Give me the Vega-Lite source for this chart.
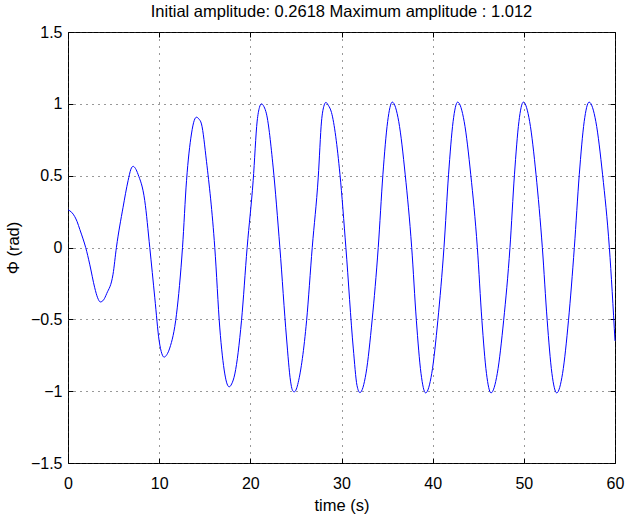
{
  "$schema": "https://vega.github.io/schema/vega-lite/v6.json",
  "width": 547,
  "height": 431,
  "autosize": {"type": "none"},
  "padding": {"left": 68, "top": 32, "right": 10, "bottom": 56},
  "background": "white",
  "title": {
    "text": "Initial amplitude: 0.2618 Maximum amplitude : 1.012",
    "font": "Liberation Sans",
    "fontSize": 16.5,
    "fontWeight": "normal",
    "color": "black",
    "anchor": "middle",
    "baseline": "alphabetic",
    "offset": 13,
    "dy": 22
  },
  "config": {
    "view": {"stroke": "black", "strokeWidth": 1},
    "font": "Liberation Sans",
    "axis": {
      "labelFont": "Liberation Sans",
      "titleFont": "Liberation Sans",
      "labelFontSize": 16,
      "titleFontSize": 16.5,
      "labelColor": "black",
      "titleColor": "black",
      "titleFontWeight": "normal",
      "domain": false,
      "ticks": true,
      "tickColor": "black",
      "tickSize": -5,
      "tickWidth": 1,
      "labelFlush": false,
      "labelOverlap": false
    }
  },
  "data": {
    "values": [
      {"t": 0, "phi": 0.262}, {"t": 0.4, "phi": 0.245}, {"t": 0.74, "phi": 0.215}, {"t": 1.0, "phi": 0.18},
      {"t": 1.3, "phi": 0.125}, {"t": 1.65, "phi": 0.06}, {"t": 1.94, "phi": 0}, {"t": 2.38, "phi": -0.116},
      {"t": 2.93, "phi": -0.28}, {"t": 3.25, "phi": -0.35}, {"t": 3.55, "phi": -0.379}, {"t": 3.9, "phi": -0.365},
      {"t": 4.25, "phi": -0.32}, {"t": 4.94, "phi": -0.186}, {"t": 5.31, "phi": 0}, {"t": 6.04, "phi": 0.28},
      {"t": 6.59, "phi": 0.465}, {"t": 6.9, "phi": 0.545}, {"t": 7.14, "phi": 0.565}, {"t": 7.4, "phi": 0.55},
      {"t": 7.68, "phi": 0.51}, {"t": 8.42, "phi": 0.326}, {"t": 8.97, "phi": 0}, {"t": 9.52, "phi": -0.35},
      {"t": 10.0, "phi": -0.65}, {"t": 10.3, "phi": -0.74}, {"t": 10.54, "phi": -0.763}, {"t": 10.85, "phi": -0.745},
      {"t": 11.16, "phi": -0.70}, {"t": 11.9, "phi": -0.465}, {"t": 12.56, "phi": 0}, {"t": 13.0, "phi": 0.465},
      {"t": 13.54, "phi": 0.79}, {"t": 13.85, "phi": 0.885}, {"t": 14.09, "phi": 0.907}, {"t": 14.35, "phi": 0.895},
      {"t": 14.64, "phi": 0.86}, {"t": 15.19, "phi": 0.6}, {"t": 16.1, "phi": 0}, {"t": 16.65, "phi": -0.56},
      {"t": 17.2, "phi": -0.88}, {"t": 17.45, "phi": -0.95}, {"t": 17.68, "phi": -0.97}, {"t": 17.95, "phi": -0.95},
      {"t": 18.3, "phi": -0.88}, {"t": 19.03, "phi": -0.51}, {"t": 19.65, "phi": 0}, {"t": 20.31, "phi": 0.465},
      {"t": 20.75, "phi": 0.88}, {"t": 21.0, "phi": 0.975}, {"t": 21.22, "phi": 1.0}, {"t": 21.5, "phi": 0.98},
      {"t": 21.77, "phi": 0.93}, {"t": 22.5, "phi": 0.56}, {"t": 23.24, "phi": 0}, {"t": 23.97, "phi": -0.63},
      {"t": 24.41, "phi": -0.93}, {"t": 24.6, "phi": -0.99}, {"t": 24.81, "phi": -1.005}, {"t": 25.05, "phi": -0.985},
      {"t": 25.25, "phi": -0.94}, {"t": 26.17, "phi": -0.51}, {"t": 26.79, "phi": 0}, {"t": 27.45, "phi": 0.49},
      {"t": 27.81, "phi": 0.88}, {"t": 28.05, "phi": 0.98}, {"t": 28.29, "phi": 1.01}, {"t": 28.55, "phi": 0.99},
      {"t": 28.9, "phi": 0.94}, {"t": 29.83, "phi": 0.51}, {"t": 30.48, "phi": 0}, {"t": 31.29, "phi": -0.7},
      {"t": 31.7, "phi": -0.96}, {"t": 32.02, "phi": -1.01}, {"t": 32.69, "phi": -0.875}, {"t": 33.36, "phi": -0.505},
      {"t": 34.03, "phi": 0}, {"t": 34.54, "phi": 0.506}, {"t": 35.06, "phi": 0.876}, {"t": 35.57, "phi": 1.012},
      {"t": 36.28, "phi": 0.876}, {"t": 36.99, "phi": 0.506}, {"t": 37.7, "phi": 0}, {"t": 38.21, "phi": -0.506},
      {"t": 38.72, "phi": -0.876}, {"t": 39.23, "phi": -1.012}, {"t": 39.9, "phi": -0.876}, {"t": 40.57, "phi": -0.506},
      {"t": 41.24, "phi": 0}, {"t": 41.74, "phi": 0.506}, {"t": 42.24, "phi": 0.876}, {"t": 42.74, "phi": 1.012},
      {"t": 43.46, "phi": 0.876}, {"t": 44.18, "phi": 0.506}, {"t": 44.9, "phi": 0}, {"t": 45.4, "phi": -0.506},
      {"t": 45.9, "phi": -0.876}, {"t": 46.4, "phi": -1.012}, {"t": 47.09, "phi": -0.876}, {"t": 47.79, "phi": -0.506},
      {"t": 48.48, "phi": 0}, {"t": 48.97, "phi": 0.506}, {"t": 49.46, "phi": 0.876}, {"t": 49.95, "phi": 1.012},
      {"t": 50.64, "phi": 0.876}, {"t": 51.34, "phi": 0.506}, {"t": 52.03, "phi": 0}, {"t": 52.56, "phi": -0.506},
      {"t": 53.08, "phi": -0.876}, {"t": 53.61, "phi": -1.012}, {"t": 54.25, "phi": -0.876}, {"t": 54.9, "phi": -0.506},
      {"t": 55.54, "phi": 0}, {"t": 56.08, "phi": 0.506}, {"t": 56.62, "phi": 0.876}, {"t": 57.16, "phi": 1.012},
      {"t": 57.9, "phi": 0.876}, {"t": 58.64, "phi": 0.506}, {"t": 59.38, "phi": 0}, {"t": 60, "phi": -0.65}
    ]
  },
  "layer": [
    {
      "mark": {"type": "line", "color": "#0000ff", "strokeWidth": 1, "interpolate": "monotone"},
      "encoding": {
        "x": {
          "field": "t", "type": "quantitative",
          "scale": {"domain": [0, 60], "nice": false, "zero": false},
          "axis": {
            "orient": "bottom", "title": "time (s)", "values": [0, 10, 20, 30, 40, 50, 60], "format": "d",
            "labelPadding": 17, "titleBaseline": "alphabetic", "titleY": 47, "titleX": 273.5,
            "grid": true, "gridColor": "#333333", "gridDash": [1, 6], "gridWidth": 1
          }
        },
        "y": {
          "field": "phi", "type": "quantitative",
          "scale": {"domain": [-1.5, 1.5], "nice": false, "zero": false},
          "axis": {
            "orient": "left", "title": "Φ (rad)", "values": [-1.5, -1, -0.5, 0, 0.5, 1, 1.5], "format": "~g",
            "labelPadding": 11, "titleX": -47, "titleY": 215.5, "titleAngle": -90, "titleAlign": "center", "titleBaseline": "bottom",
            "grid": true, "gridColor": "#333333", "gridDash": [1, 5], "gridWidth": 1
          }
        }
      }
    },
    {
      "mark": {"type": "line", "strokeOpacity": 0},
      "encoding": {
        "x": {
          "field": "t", "type": "quantitative",
          "axis": {"orient": "top", "title": null, "labels": false, "grid": false, "values": [0, 10, 20, 30, 40, 50, 60]}
        },
        "y": {
          "field": "phi", "type": "quantitative",
          "axis": {"orient": "right", "title": null, "labels": false, "grid": false, "values": [-1.5, -1, -0.5, 0, 0.5, 1, 1.5]}
        }
      }
    }
  ],
  "resolve": {"axis": {"x": "independent", "y": "independent"}}
}
